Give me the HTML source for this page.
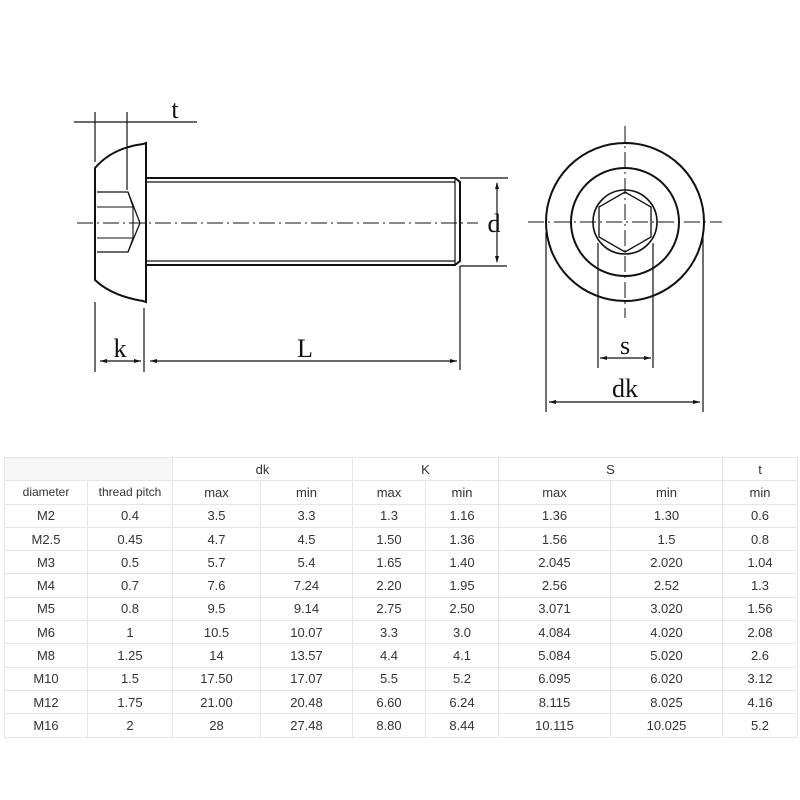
<!DOCTYPE html>
<html><head><meta charset="utf-8"><style>
body{margin:0;background:#fff;width:800px;height:800px;overflow:hidden;position:relative}
svg{position:absolute;left:0;top:0}
table{position:absolute;left:4px;top:457px;border-collapse:collapse;font-family:"Liberation Sans",sans-serif;font-size:13px;color:#333;table-layout:fixed}
td{border:1px solid #e6e6e6;text-align:center;height:22.3px;padding:0;white-space:nowrap}
.s{font-size:12px}
</style></head><body>
<svg width="800" height="450" viewBox="0 0 800 450" fill="none" stroke="#111" stroke-width="1.5">
<line x1="74" y1="122" x2="197" y2="122" stroke-width="1.2"/>
<line x1="95" y1="112" x2="95" y2="162" stroke-width="1.2"/>
<line x1="127" y1="112" x2="127" y2="190" stroke-width="1.2"/>
<path d="M95 168 Q112 148 143 144 L146 143 L146 302 L143 301 Q112 296 95 280 Z" stroke-width="2"/>
<path d="M146 178 L455 178 L460 182 L460 261 L455 265 L146 265" stroke-width="2"/>
<line x1="146" y1="182" x2="455" y2="182" stroke-width="1.2"/>
<line x1="146" y1="261" x2="455" y2="261" stroke-width="1.2"/>
<line x1="455" y1="178" x2="455" y2="265" stroke-width="1.2"/>
<path d="M97 192 L128 192 L140 223 L128 252 L97 252" stroke-width="1.3"/>
<path d="M97 207 L133 207 M97 238 L133 238 M128 192 L133 207 L133 238 L128 252" stroke-width="1.1"/>
<line x1="77" y1="223" x2="478" y2="223" stroke-width="1" stroke-dasharray="16 4 2 4"/>
<line x1="460" y1="178" x2="508" y2="178" stroke-width="1.2"/>
<line x1="460" y1="266" x2="507" y2="266" stroke-width="1.2"/>
<line x1="497" y1="183" x2="497" y2="262" stroke-width="1.2"/>
<line x1="95" y1="302" x2="95" y2="372" stroke-width="1.2"/>
<line x1="144" y1="308" x2="144" y2="372" stroke-width="1.2"/>
<line x1="460" y1="266" x2="460" y2="370" stroke-width="1.2"/>
<line x1="100" y1="361" x2="141" y2="361" stroke-width="1.2"/>
<line x1="150" y1="361" x2="457" y2="361" stroke-width="1.2"/>
<g fill="#111" stroke="none">
<path d="M497 182 l-2 7 h4z M497 263 l-2 -7 h4z M100 361 l7 -2 v4z M141 361 l-7 -2 v4z M150 361 l7 -2 v4z M457 361 l-7 -2 v4z"/>
</g>
<circle cx="625" cy="222" r="79" stroke-width="2"/>
<circle cx="625" cy="222" r="54" stroke-width="2"/>
<circle cx="625" cy="222" r="32" stroke-width="1.6"/>
<polygon points="625,192 651,207 651,237 625,252 599,237 599,207" stroke-width="1.3"/>
<line x1="528" y1="222" x2="722" y2="222" stroke-width="1" stroke-dasharray="16 4 2 4"/>
<line x1="625" y1="126" x2="625" y2="318" stroke-width="1" stroke-dasharray="16 4 2 4"/>
<line x1="598" y1="243" x2="598" y2="368" stroke-width="1.2"/>
<line x1="653" y1="243" x2="653" y2="368" stroke-width="1.2"/>
<line x1="600" y1="358" x2="651" y2="358" stroke-width="1.2"/>
<line x1="546" y1="232" x2="546" y2="412" stroke-width="1.2"/>
<line x1="703" y1="232" x2="703" y2="412" stroke-width="1.2"/>
<line x1="549" y1="402" x2="700" y2="402" stroke-width="1.2"/>
<g fill="#111" stroke="none">
<path d="M600 358 l7 -2 v4z M651 358 l-7 -2 v4z M549 402 l7 -2 v4z M700 402 l-7 -2 v4z"/>
</g>
<g fill="#111" stroke="none" font-family="Liberation Serif,serif" font-size="26" text-anchor="middle">
<text x="175" y="118">t</text>
<text x="120" y="357">k</text>
<text x="305" y="357">L</text>
<text x="494" y="232">d</text>
<text x="625" y="354">s</text>
<text x="625" y="397">dk</text>
</g>
</svg>
<table>
<colgroup><col style="width:83px"><col style="width:85px"><col style="width:88px"><col style="width:92px"><col style="width:73px"><col style="width:73px"><col style="width:112px"><col style="width:112px"><col style="width:75px"></colgroup>
<tr><td colspan="2" style="background:#f7f7f7"></td><td colspan="2">dk</td><td colspan="2">K</td><td colspan="2">S</td><td>t</td></tr>
<tr><td class="s">diameter</td><td class="s">thread pitch</td><td>max</td><td>min</td><td>max</td><td>min</td><td>max</td><td>min</td><td>min</td></tr>
<tr><td>M2</td><td>0.4</td><td>3.5</td><td>3.3</td><td>1.3</td><td>1.16</td><td>1.36</td><td>1.30</td><td>0.6</td></tr>
<tr><td>M2.5</td><td>0.45</td><td>4.7</td><td>4.5</td><td>1.50</td><td>1.36</td><td>1.56</td><td>1.5</td><td>0.8</td></tr>
<tr><td>M3</td><td>0.5</td><td>5.7</td><td>5.4</td><td>1.65</td><td>1.40</td><td>2.045</td><td>2.020</td><td>1.04</td></tr>
<tr><td>M4</td><td>0.7</td><td>7.6</td><td>7.24</td><td>2.20</td><td>1.95</td><td>2.56</td><td>2.52</td><td>1.3</td></tr>
<tr><td>M5</td><td>0.8</td><td>9.5</td><td>9.14</td><td>2.75</td><td>2.50</td><td>3.071</td><td>3.020</td><td>1.56</td></tr>
<tr><td>M6</td><td>1</td><td>10.5</td><td>10.07</td><td>3.3</td><td>3.0</td><td>4.084</td><td>4.020</td><td>2.08</td></tr>
<tr><td>M8</td><td>1.25</td><td>14</td><td>13.57</td><td>4.4</td><td>4.1</td><td>5.084</td><td>5.020</td><td>2.6</td></tr>
<tr><td>M10</td><td>1.5</td><td>17.50</td><td>17.07</td><td>5.5</td><td>5.2</td><td>6.095</td><td>6.020</td><td>3.12</td></tr>
<tr><td>M12</td><td>1.75</td><td>21.00</td><td>20.48</td><td>6.60</td><td>6.24</td><td>8.115</td><td>8.025</td><td>4.16</td></tr>
<tr><td>M16</td><td>2</td><td>28</td><td>27.48</td><td>8.80</td><td>8.44</td><td>10.115</td><td>10.025</td><td>5.2</td></tr>
</table>
</body></html>
